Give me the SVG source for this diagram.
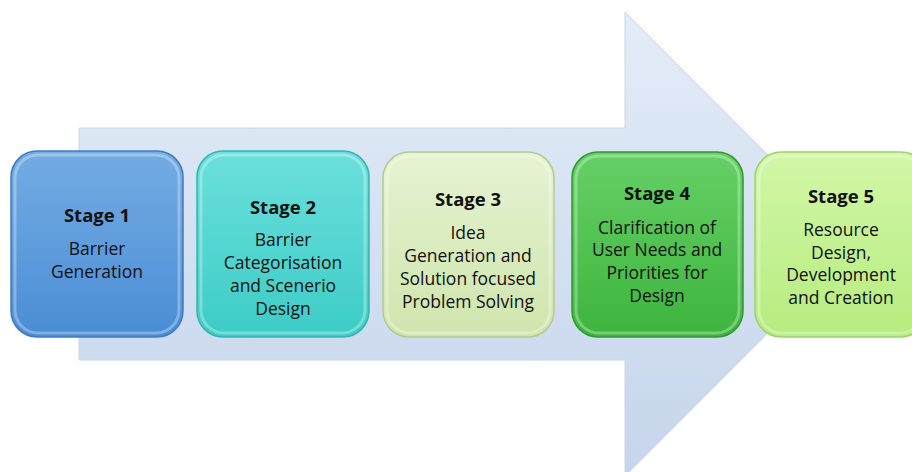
<svg xmlns="http://www.w3.org/2000/svg" width="912" height="472" viewBox="0 0 912 472">
<defs>
<linearGradient id="gArrow" x1="0" y1="0" x2="0" y2="1">
<stop offset="0" stop-color="#e3ecf8"/><stop offset="1" stop-color="#c6d5ec"/>
</linearGradient>
<linearGradient id="g1" x1="0" y1="0" x2="0" y2="1"><stop offset="0" stop-color="#74ace3"/><stop offset="1" stop-color="#4a8dd5"/></linearGradient>
<linearGradient id="g2" x1="0" y1="0" x2="0" y2="1"><stop offset="0" stop-color="#6be0dc"/><stop offset="1" stop-color="#3dccc6"/></linearGradient>
<linearGradient id="g3" x1="0" y1="0" x2="0" y2="1"><stop offset="0" stop-color="#e6f3d2"/><stop offset="1" stop-color="#cfe5ad"/></linearGradient>
<linearGradient id="g4" x1="0" y1="0" x2="0" y2="1"><stop offset="0" stop-color="#66d066"/><stop offset="1" stop-color="#3db53d"/></linearGradient>
<linearGradient id="g5" x1="0" y1="0" x2="0" y2="1"><stop offset="0" stop-color="#d2f7a6"/><stop offset="1" stop-color="#b6ec80"/></linearGradient>
</defs>
<style>
.box{stroke-width:1.5}
.rim{fill:none;stroke:#ffffff;stroke-opacity:0.3;stroke-width:3}
.t{font-family:"Open Sans","Liberation Sans",sans-serif;fill:#111;text-anchor:middle}
.h{font-size:18.5px;font-weight:bold}
.b{font-size:17.5px}
</style>
<rect width="912" height="472" fill="#ffffff"/>
<g id="connectors">
<path d="M79,128 H625 V12 L857,244 L625,476 V360 H79 Z" fill="url(#gArrow)" stroke="#c9d6e8" stroke-width="1"/>
</g>
<g id="stage1">
<rect class="box" x="11" y="151" width="172" height="186" rx="26" fill="url(#g1)" stroke="#3f7cc2"/>
<rect class="rim" x="15" y="155" width="164" height="178" rx="23"/>
<text class="t h" x="97" y="222">Stage 1</text>
<text class="t b" x="97" y="255">Barrier</text>
<text class="t b" x="97" y="278">Generation</text>
</g>
<g id="stage2">
<rect class="box" x="197" y="151" width="172" height="186" rx="26" fill="url(#g2)" stroke="#33b5b0"/>
<rect class="rim" x="201" y="155" width="164" height="178" rx="23"/>
<text class="t h" x="283" y="214">Stage 2</text>
<text class="t b" x="283" y="246">Barrier</text>
<text class="t b" x="283" y="269">Categorisation</text>
<text class="t b" x="283" y="292">and Scenerio</text>
<text class="t b" x="283" y="315">Design</text>
</g>
<g id="stage3">
<rect class="box" x="383" y="152" width="171" height="185" rx="26" fill="url(#g3)" stroke="#b3cc8e"/>
<rect class="rim" x="387" y="156" width="163" height="177" rx="23"/>
<text class="t h" x="468" y="206">Stage 3</text>
<text class="t b" x="468" y="239">Idea</text>
<text class="t b" x="468" y="262">Generation and</text>
<text class="t b" x="468" y="285">Solution focused</text>
<text class="t b" x="468" y="308">Problem Solving</text>
</g>
<g id="stage4">
<rect class="box" x="572" y="152" width="171" height="185" rx="26" fill="url(#g4)" stroke="#2f9a2f"/>
<rect class="rim" x="576" y="156" width="163" height="177" rx="23"/>
<text class="t h" x="657" y="200">Stage 4</text>
<text class="t b" x="657" y="234">Clarification of</text>
<text class="t b" x="657" y="256">User Needs and</text>
<text class="t b" x="657" y="279">Priorities for</text>
<text class="t b" x="657" y="302">Design</text>
</g>
<g id="stage5">
<rect class="box" x="755" y="152" width="172" height="185" rx="26" fill="url(#g5)" stroke="#9dd46a"/>
<rect class="rim" x="759" y="156" width="164" height="177" rx="23"/>
<text class="t h" x="841" y="203">Stage 5</text>
<text class="t b" x="841" y="236">Resource</text>
<text class="t b" x="841" y="259">Design,</text>
<text class="t b" x="841" y="281">Development</text>
<text class="t b" x="841" y="304">and Creation</text>
</g>
</svg>
